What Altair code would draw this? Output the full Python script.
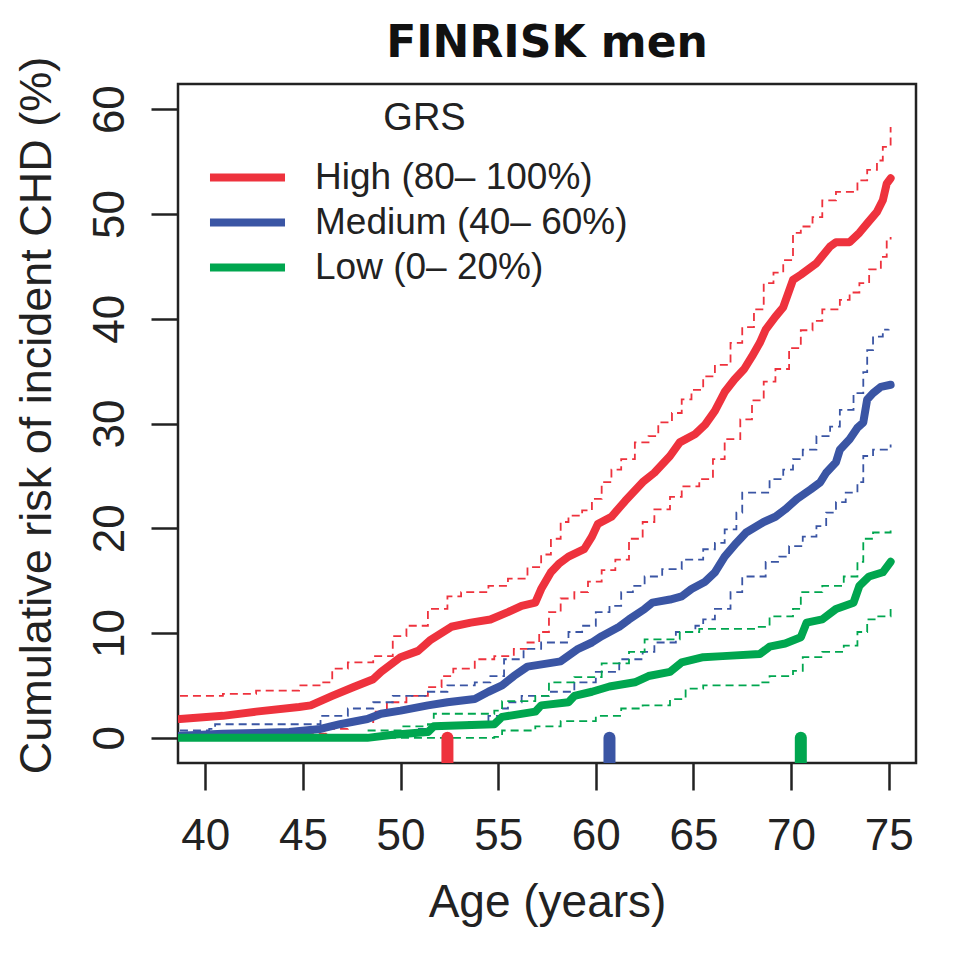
import altair as alt
import pandas as pd

# ---------------- data ----------------
groups = ["High (80\u2013 100%)", "Medium (40\u2013 60%)", "Low (0\u2013 20%)"]
colors = ["#EE323D", "#3A55A4", "#00A64F"]

high_age = [38.7, 40.9, 42.6, 44.8, 45.4, 46.5, 47.6, 48.6, 49.0, 50.0, 50.9, 51.5, 52.6, 53.6,
            54.6, 55.5, 56.2, 56.9, 57.2, 57.7, 58.1, 58.6, 59.4, 59.8, 60.1, 60.8, 61.5, 62.4,
            63.0, 63.8, 64.3, 65.1, 65.6, 66.1, 66.6, 67.1, 67.6, 68.0, 68.4, 68.7, 69.2, 69.6,
            70.1, 70.5, 71.3, 72.0, 72.3, 73.0, 73.5, 73.9, 74.4, 74.7, 74.9, 75.1]
high_est = [1.8, 2.1, 2.5, 2.95, 3.1, 4.0, 4.85, 5.6, 6.3, 7.7, 8.3, 9.3, 10.6, 11.0,
            11.3, 12.0, 12.6, 12.9, 14.2, 15.8, 16.6, 17.3, 18.0, 19.2, 20.4, 21.1, 22.6, 24.4,
            25.3, 26.9, 28.2, 29.0, 29.9, 31.2, 33.0, 34.2, 35.2, 36.4, 37.7, 38.95, 40.2, 41.1,
            43.7, 44.2, 45.3, 46.9, 47.3, 47.3, 48.2, 49.1, 50.2, 51.3, 52.9, 53.4]

high_up_age = [38.7, 40.9, 42.6, 44.8, 45.9, 46.5, 47.3, 48.6, 49.6, 50.3, 51.4, 52.4, 53.1, 54.5,
               55.5, 56.5, 57.2, 57.7, 58.2, 58.6, 59.3, 59.8, 60.3, 60.8, 61.3, 62.0, 62.7, 63.2,
               63.9, 64.4, 64.9, 65.5, 66.1, 66.9, 67.5, 68.1, 68.6, 69.1, 69.6, 70.1, 70.5, 71.1,
               71.6, 72.3, 73.4, 73.9, 74.4, 74.7, 75.1]
high_up = [4.0, 4.2, 4.5, 5.0, 5.3, 6.6, 7.2, 7.8, 9.7, 10.7, 12.3, 13.5, 13.9, 14.5,
           15.2, 16.3, 17.5, 19.0, 20.6, 21.2, 21.7, 22.8, 24.4, 25.6, 26.6, 28.2, 28.8, 30.1,
           31.0, 32.3, 33.2, 34.5, 35.6, 37.7, 39.2, 40.9, 43.4, 44.4, 45.6, 48.2, 48.8, 49.7,
           51.3, 52.1, 53.2, 54.2, 55.1, 56.4, 58.3]

high_lo_age = [38.7, 41.8, 44.8, 46.2, 47.3, 48.6, 49.3, 50.3, 51.4, 52.1, 52.7, 53.8, 54.8, 55.8,
               56.5, 57.1, 57.6, 58.2, 58.9, 59.6, 60.3, 61.0, 61.7, 62.4, 63.0, 63.8, 64.4, 65.3,
               66.0, 66.6, 67.4, 68.0, 68.6, 69.2, 69.9, 70.5, 71.1, 71.6, 72.5, 73.0, 73.5, 74.0,
               74.6, 74.9, 75.1]
high_lo = [0.0, 0.1, 0.4, 0.85, 1.5, 2.5, 3.4, 4.0, 4.85, 5.9, 6.6, 7.5, 7.8, 8.5,
           9.1, 10.1, 12.0, 13.3, 13.9, 14.9, 16.0, 17.0, 19.0, 20.6, 21.8, 23.0, 24.0, 24.7,
           26.6, 28.5, 30.4, 32.2, 34.0, 35.2, 37.2, 38.9, 39.8, 40.9, 41.8, 42.5, 43.4, 44.7,
           45.9, 47.5, 47.8]

med_age = [38.7, 40.9, 44.3, 45.9, 46.9, 48.3, 49.0, 50.0, 51.4, 52.4, 53.8, 54.5, 55.2, 55.8,
           56.5, 58.2, 59.1, 59.8, 60.3, 61.2, 61.7, 62.5, 62.9, 63.8, 64.4, 64.9, 65.6, 66.1,
           66.6, 67.2, 67.7, 68.6, 69.2, 69.7, 70.3, 71.0, 71.5, 71.8, 72.3, 72.5, 73.0, 73.4,
           73.7, 73.9, 74.2, 74.6, 75.1]
med_est = [0.2, 0.4, 0.55, 0.85, 1.3, 1.8, 2.3, 2.6, 3.1, 3.4, 3.7, 4.4, 5.0, 5.9,
           6.8, 7.3, 8.5, 9.1, 9.7, 10.6, 11.3, 12.3, 12.9, 13.2, 13.5, 14.2, 14.9, 15.8,
           17.3, 18.6, 19.6, 20.6, 21.1, 21.8, 22.8, 23.7, 24.4, 25.3, 26.3, 27.5, 28.5, 29.6,
           30.1, 32.3, 32.9, 33.5, 33.7]

med_up_age = [38.7, 40.2, 40.5, 45.5, 45.9, 47.3, 48.6, 49.6, 51.4, 52.4, 53.8, 54.6, 55.3, 56.3,
              57.2, 58.6, 59.3, 60.0, 60.7, 61.3, 61.9, 62.5, 63.4, 64.4, 65.5, 66.1, 66.6, 67.2,
              67.5, 68.4, 68.9, 69.6, 70.1, 70.6, 71.3, 72.0, 72.5, 73.2, 73.7, 73.9, 74.2, 74.7,
              75.0]
med_up = [0.7, 0.85, 1.3, 1.3, 2.1, 2.8, 3.4, 4.0, 4.4, 5.0, 5.3, 5.9, 7.5, 8.5,
          9.1, 10.1, 10.7, 12.0, 12.6, 13.9, 14.5, 15.4, 16.1, 17.0, 18.0, 18.6, 19.9, 21.5,
          23.4, 23.4, 24.7, 25.6, 26.6, 27.5, 28.8, 29.7, 31.3, 32.9, 34.9, 37.0, 38.3, 38.95,
          39.0]

med_lo_age = [38.7, 46.9, 49.0, 50.7, 52.1, 53.5, 54.5, 55.2, 55.5, 56.2, 57.7, 58.9, 60.0, 61.2,
              62.4, 63.0, 64.1, 65.1, 65.5, 66.1, 66.9, 67.5, 68.7, 69.4, 69.9, 70.6, 71.3, 71.8,
              72.3, 72.8, 73.4, 73.7, 74.2, 75.1]
med_lo = [0.0, 0.0, 0.4, 0.85, 1.3, 1.5, 2.1, 2.8, 3.4, 4.0, 4.4, 5.3, 6.3, 7.5,
          8.2, 9.1, 10.1, 10.7, 11.3, 12.3, 13.9, 15.4, 16.8, 17.3, 18.3, 19.2, 20.2, 21.5,
          22.5, 23.4, 24.4, 26.9, 27.5, 28.0]

low_age = [38.7, 48.3, 49.6, 51.4, 51.7, 54.8, 55.2, 56.9, 57.2, 58.6, 58.9, 59.8, 60.7, 62.0,
           62.7, 63.8, 64.4, 65.5, 66.5, 68.4, 68.9, 69.7, 70.5, 70.8, 71.6, 72.3, 73.2, 73.5,
           74.0, 74.7, 75.1]
low_est = [0.0, 0.0, 0.3, 0.55, 1.1, 1.3, 2.0, 2.5, 3.1, 3.4, 4.0, 4.4, 4.9, 5.3,
           5.9, 6.3, 7.2, 7.7, 7.8, 8.0, 8.7, 9.0, 9.6, 11.0, 11.3, 12.3, 12.9, 14.5,
           15.4, 15.8, 16.8]

low_up_age = [38.7, 48.3, 50.0, 51.4, 51.7, 54.8, 55.2, 56.9, 57.6, 58.9, 60.3, 61.7, 62.5, 64.3,
              65.3, 68.2, 68.9, 70.1, 70.5, 71.6, 72.7, 73.4, 73.7, 74.2, 75.1]
low_up = [0.0, 0.7, 1.1, 1.3, 2.3, 2.6, 3.5, 4.0, 5.3, 5.8, 7.1, 8.2, 9.4, 10.1,
          10.4, 10.6, 11.6, 12.3, 13.9, 14.5, 15.4, 16.8, 19.0, 19.6, 20.2]

low_lo_age = [38.7, 54.8, 55.2, 56.9, 58.2, 60.0, 61.3, 62.4, 63.8, 64.6, 65.5, 68.4, 68.9, 70.1,
              70.6, 71.6, 72.7, 73.4, 73.9, 74.4, 75.1]
low_lo = [0.0, 0.1, 0.7, 1.1, 1.6, 2.1, 2.8, 3.1, 3.7, 4.7, 5.0, 5.3, 5.9, 6.4,
          7.7, 8.2, 8.8, 10.1, 11.3, 11.6, 12.3]

median_age = [52.4, 60.7, 70.5]

# ---------------- tables ----------------
def frame(ages, vals, group, band):
    return pd.DataFrame({"age": ages, "risk": vals, "group": group,
                         "line_id": group + "|" + band})

est_df = pd.concat([
    frame(high_age, high_est, groups[0], "est"),
    frame(med_age, med_est, groups[1], "est"),
    frame(low_age, low_est, groups[2], "est"),
], ignore_index=True)

ci_df = pd.concat([
    frame(high_up_age, high_up, groups[0], "up"),
    frame(high_lo_age, high_lo, groups[0], "lo"),
    frame(med_up_age, med_up, groups[1], "up"),
    frame(med_lo_age, med_lo, groups[1], "lo"),
    frame(low_up_age, low_up, groups[2], "up"),
    frame(low_lo_age, low_lo, groups[2], "lo"),
], ignore_index=True)

rug_df = pd.DataFrame({"age": median_age, "group": groups})

# ---------------- encodings ----------------
FONT = "Liberation Sans"
INK = "#222222"

x_enc = alt.X("age:Q",
              scale=alt.Scale(domain=[38.6, 76.4], nice=False, zero=False),
              axis=alt.Axis(values=[40, 45, 50, 55, 60, 65, 70, 75], title="Age (years)",
                            grid=False, domain=False, tickSize=27, tickWidth=2.5,
                            tickColor=INK, labelFontSize=44, labelFont=FONT,
                            labelColor=INK, labelPadding=24, labelFlush=False,
                            titleFontSize=46, titleFont=FONT, titleFontWeight="normal",
                            titleColor=INK, titleY=153, titleBaseline="alphabetic"))
y_enc = alt.Y("risk:Q",
              scale=alt.Scale(domain=[-2.4, 62.4], nice=False, zero=False),
              axis=alt.Axis(values=[0, 10, 20, 30, 40, 50, 60],
                            title="Cumulative risk of incident CHD (%)",
                            grid=False, domain=False, tickSize=27, tickWidth=2.5,
                            tickColor=INK, labelFontSize=44, labelFont=FONT,
                            labelColor=INK, labelPadding=28, labelFlush=False,
                            labelAngle=270, labelAlign="center", labelBaseline="alphabetic",
                            titleFontSize=45, titleFont=FONT, titleFontWeight="normal",
                            titleColor=INK, titleAngle=270, titleX=-128, titleY=331,
                            titleAlign="center", titleBaseline="alphabetic"))
color_scale = alt.Scale(domain=groups, range=colors)
# same mapping, listed in another order so that this guide-less scale stays apart
stroke_scale = alt.Scale(domain=groups[::-1], range=colors[::-1])

dashed = alt.Chart(ci_df).mark_line(
    interpolate="step-after", strokeWidth=1.8, strokeDash=[8, 5], clip=True
).encode(
    x=x_enc, y=y_enc,
    stroke=alt.Stroke("group:N", scale=stroke_scale, legend=None),
    detail="line_id:N",
)

main = alt.Chart(est_df).mark_line(
    interpolate="linear", strokeWidth=8, strokeCap="round", strokeJoin="round", clip=True
).encode(
    x=x_enc, y=y_enc,
    color=alt.Color("group:N", scale=color_scale, sort=groups,
                    legend=alt.Legend(title="GRS", orient="none", legendX=43.5, legendY=16,
                                      symbolType="M-1.705,0H1.705", symbolStrokeWidth=8,
                                      symbolSize=1936, symbolOpacity=1,
                                      labelFontSize=37, labelFont=FONT, labelColor=INK,
                                      labelOffset=41.5, labelLimit=0,
                                      titleFontSize=38, titleFont=FONT,
                                      titleFontWeight="normal", titleColor=INK,
                                      titleAnchor="middle", titlePadding=13.5,
                                      rowPadding=1, padding=0)),
)

rug = alt.Chart(rug_df).mark_rule(strokeWidth=12, strokeCap="round", clip=True).encode(
    x=x_enc,
    y=alt.datum(-3),
    y2=alt.datum(0),
    stroke=alt.Stroke("group:N", scale=stroke_scale, legend=None),
)

chart = alt.layer(dashed, main, rug).properties(
    width=738, height=679,
    autosize=alt.AutoSizeParams(type="none"),
    padding={"left": 170, "top": 76, "right": 37, "bottom": 183},
    background="white",
    title=alt.Title("FINRISK men", fontSize=44, font="DejaVu Sans", fontWeight="bold",
                    color="#111111", anchor="middle", baseline="alphabetic",
                    offset=9, dy=54),
).configure_view(
    stroke=INK, strokeWidth=2.5
)

chart.save("out.html", embed_options={"renderer": "svg", "actions": False})
